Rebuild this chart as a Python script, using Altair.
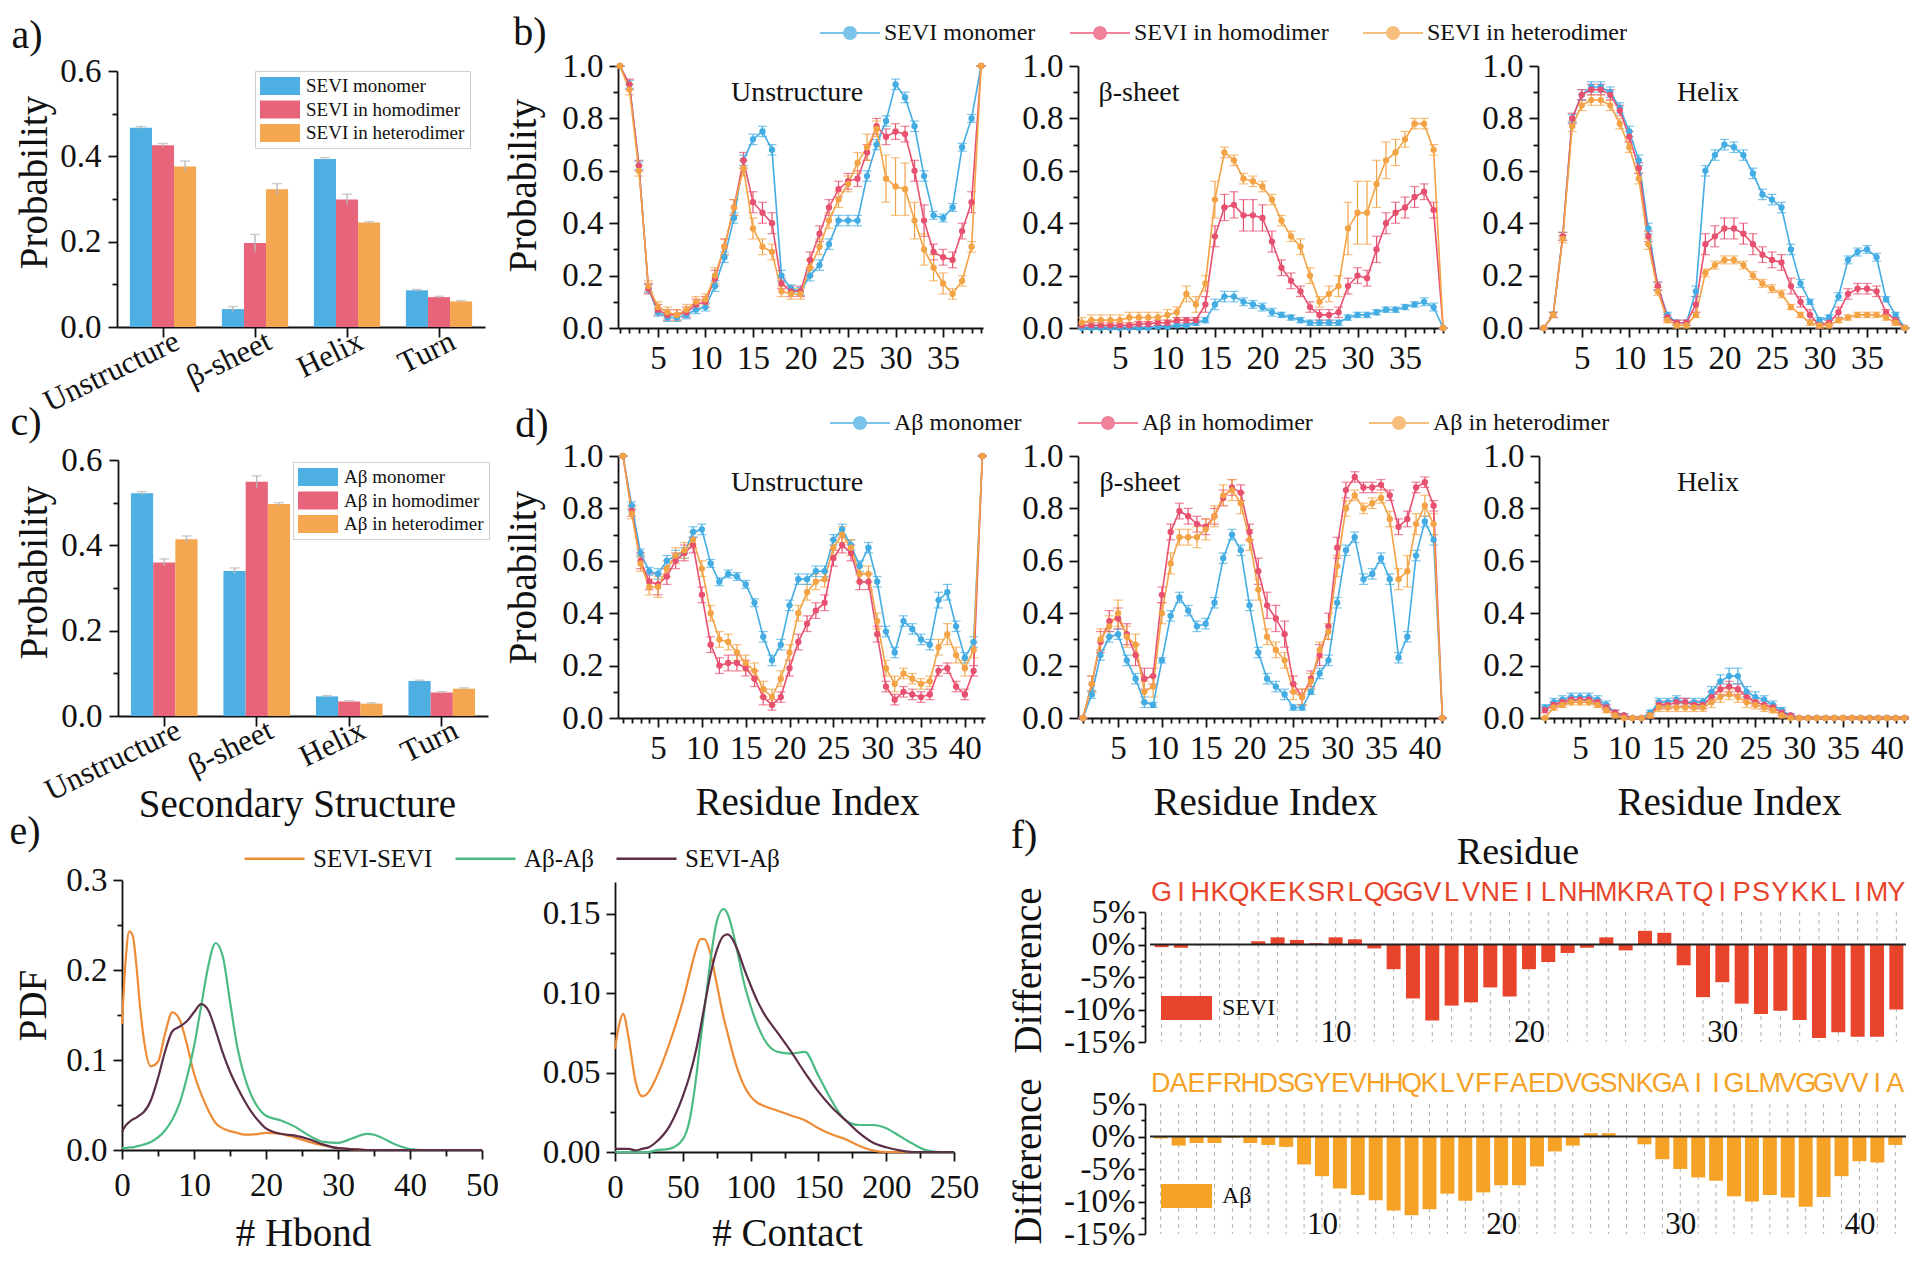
import altair as alt
import pandas as pd

FONT = "Liberation Serif"
SEQ_FONT = "Liberation Sans, Arial, sans-serif"
INK = "#111111"
H = 1248

LINE_COLORS = ["#43ACE3", "#E8506F", "#F3A345"]
BAR_COLORS = ["#4DAFE2", "#E8647A", "#F4A650"]
E_COLORS = ["#EE8B35", "#4CBB83", "#5C2F49"]
F_SEVI_COLOR = "#E8442C"
F_AB_COLOR = "#F5A226"

# ---------------- a) / c) secondary structure ----------------
categories = ["Unstructure", "β-sheet", "Helix", "Turn"]
sevi_names = ["SEVI monomer", "SEVI in homodimer", "SEVI in heterodimer"]
ab_names = ["Aβ monomer", "Aβ in homodimer", "Aβ in heterodimer"]

sevi_mono_ss = [0.467, 0.042, 0.394, 0.086]
sevi_homo_ss = [0.426, 0.197, 0.299, 0.070]
sevi_hetero_ss = [0.376, 0.323, 0.245, 0.060]
sevi_mono_ss_err = [0.003, 0.006, 0.003, 0.002]
sevi_homo_ss_err = [0.004, 0.020, 0.012, 0.002]
sevi_hetero_ss_err = [0.013, 0.013, 0.002, 0.002]

ab_mono_ss = [0.522, 0.340, 0.046, 0.082]
ab_homo_ss = [0.360, 0.549, 0.034, 0.055]
ab_hetero_ss = [0.414, 0.497, 0.029, 0.064]
ab_mono_ss_err = [0.004, 0.007, 0.002, 0.002]
ab_homo_ss_err = [0.008, 0.014, 0.002, 0.002]
ab_hetero_ss_err = [0.008, 0.003, 0.002, 0.002]

# ---------------- b) SEVI per-residue (39 residues) ----------------
sevi_unstr_mono = [1.0,0.93,0.62,0.15,0.06,0.04,0.04,0.05,0.07,0.08, 0.16,0.27,0.42,0.64,0.72,0.75,0.68,0.20,0.15,0.14, 0.20,0.24,0.32,0.41,0.41,0.41,0.58,0.70,0.79,0.93, 0.88,0.77,0.58,0.43,0.42,0.46,0.69,0.80,1.0]
sevi_unstr_homo = [1.0,0.93,0.62,0.15,0.07,0.05,0.05,0.06,0.09,0.10, 0.19,0.31,0.46,0.64,0.48,0.44,0.40,0.17,0.14,0.14, 0.26,0.36,0.46,0.53,0.56,0.57,0.67,0.77,0.73,0.75, 0.74,0.60,0.41,0.29,0.27,0.26,0.37,0.48,1.0]
sevi_unstr_hetero = [1.0,0.91,0.60,0.16,0.08,0.06,0.05,0.07,0.10,0.11, 0.20,0.31,0.46,0.61,0.38,0.31,0.29,0.14,0.13,0.13, 0.23,0.31,0.41,0.49,0.55,0.63,0.69,0.76,0.57,0.54, 0.53,0.41,0.30,0.23,0.17,0.13,0.18,0.31,1.0]
sevi_unstr_mono_err = [0.0,0.015,0.015,0.015,0.015,0.015,0.015,0.015,0.015,0.015, 0.02,0.02,0.02,0.02,0.02,0.02,0.02,0.02,0.015,0.015, 0.02,0.02,0.02,0.02,0.02,0.02,0.02,0.02,0.02,0.02, 0.02,0.02,0.02,0.015,0.015,0.015,0.015,0.015,0.0]
sevi_unstr_homo_err = [0.0,0.02,0.02,0.02,0.02,0.02,0.02,0.02,0.02,0.02, 0.03,0.03,0.03,0.03,0.04,0.04,0.04,0.02,0.02,0.02, 0.03,0.03,0.03,0.03,0.03,0.03,0.03,0.03,0.03,0.03, 0.03,0.04,0.06,0.03,0.03,0.03,0.03,0.04,0.0]
sevi_unstr_hetero_err = [0.0,0.02,0.02,0.02,0.02,0.02,0.02,0.02,0.02,0.02, 0.03,0.03,0.03,0.03,0.04,0.03,0.03,0.02,0.02,0.02, 0.03,0.03,0.03,0.03,0.03,0.04,0.05,0.03,0.09,0.11, 0.10,0.07,0.06,0.05,0.04,0.02,0.02,0.02,0.0]

sevi_beta_mono = [0.0,0.0,0.0,0.0,0.0,0.0,0.0,0.0,0.005,0.005, 0.01,0.01,0.02,0.03,0.09,0.12,0.12,0.10,0.09,0.08, 0.06,0.05,0.04,0.03,0.02,0.02,0.02,0.02,0.04,0.05, 0.05,0.06,0.07,0.07,0.08,0.09,0.10,0.08,0.0]
sevi_beta_homo = [0.01,0.01,0.01,0.01,0.01,0.01,0.015,0.015,0.02,0.02, 0.03,0.03,0.03,0.09,0.35,0.46,0.47,0.43,0.43,0.42, 0.33,0.23,0.18,0.14,0.08,0.05,0.05,0.06,0.16,0.20, 0.19,0.30,0.40,0.44,0.46,0.50,0.52,0.45,0.0]
sevi_beta_hetero = [0.02,0.03,0.03,0.03,0.03,0.04,0.04,0.04,0.04,0.05, 0.06,0.13,0.09,0.17,0.49,0.67,0.64,0.57,0.56,0.54, 0.49,0.41,0.35,0.31,0.20,0.10,0.13,0.16,0.38,0.44, 0.44,0.55,0.64,0.67,0.72,0.78,0.78,0.68,0.0]
sevi_beta_mono_err = [0.005,0.005,0.005,0.005,0.005,0.005,0.005,0.005,0.005,0.005, 0.005,0.005,0.01,0.01,0.02,0.02,0.02,0.015,0.015,0.015, 0.015,0.01,0.01,0.01,0.01,0.01,0.01,0.01,0.01,0.01, 0.01,0.01,0.01,0.01,0.01,0.01,0.015,0.015,0.0]
sevi_beta_homo_err = [0.01,0.01,0.01,0.01,0.01,0.01,0.01,0.01,0.01,0.01, 0.01,0.01,0.01,0.03,0.04,0.05,0.05,0.06,0.06,0.05, 0.04,0.03,0.03,0.02,0.02,0.02,0.02,0.02,0.03,0.03, 0.03,0.05,0.04,0.04,0.04,0.04,0.03,0.03,0.0]
sevi_beta_hetero_err = [0.02,0.02,0.02,0.02,0.02,0.02,0.02,0.02,0.02,0.02, 0.02,0.03,0.03,0.03,0.07,0.02,0.02,0.02,0.02,0.02, 0.02,0.02,0.02,0.03,0.03,0.02,0.03,0.04,0.10,0.12, 0.12,0.09,0.07,0.05,0.03,0.02,0.02,0.02,0.0]

sevi_helix_mono = [0.0,0.05,0.35,0.80,0.89,0.92,0.92,0.90,0.84,0.75, 0.64,0.38,0.16,0.05,0.02,0.02,0.14,0.60,0.66,0.70, 0.69,0.66,0.59,0.51,0.49,0.46,0.30,0.17,0.10,0.03, 0.04,0.12,0.26,0.29,0.30,0.27,0.11,0.05,0.0]
sevi_helix_homo = [0.0,0.05,0.35,0.80,0.89,0.91,0.91,0.89,0.83,0.73, 0.61,0.35,0.16,0.04,0.02,0.02,0.09,0.32,0.35,0.38, 0.38,0.36,0.32,0.28,0.26,0.25,0.16,0.10,0.05,0.01, 0.02,0.06,0.13,0.15,0.15,0.14,0.06,0.03,0.0]
sevi_helix_hetero = [0.0,0.05,0.34,0.77,0.85,0.87,0.87,0.85,0.78,0.69, 0.57,0.32,0.14,0.03,0.01,0.01,0.05,0.21,0.24,0.26, 0.26,0.24,0.20,0.17,0.15,0.13,0.08,0.05,0.02,0.01, 0.01,0.03,0.04,0.05,0.05,0.05,0.04,0.02,0.0]
sevi_helix_mono_err = [0.0,0.01,0.015,0.015,0.02,0.02,0.02,0.02,0.02,0.02, 0.02,0.02,0.015,0.01,0.01,0.01,0.02,0.02,0.02,0.02, 0.02,0.02,0.02,0.02,0.02,0.02,0.02,0.015,0.01,0.01, 0.01,0.015,0.015,0.015,0.015,0.015,0.01,0.01,0.0]
sevi_helix_homo_err = [0.0,0.01,0.015,0.02,0.02,0.02,0.02,0.02,0.02,0.02, 0.02,0.02,0.015,0.01,0.01,0.01,0.03,0.04,0.04,0.04, 0.04,0.04,0.04,0.03,0.03,0.03,0.03,0.02,0.02,0.01, 0.01,0.02,0.02,0.02,0.02,0.02,0.01,0.01,0.0]
sevi_helix_hetero_err = [0.0,0.01,0.015,0.02,0.02,0.02,0.02,0.02,0.02,0.02, 0.02,0.02,0.015,0.01,0.01,0.01,0.01,0.015,0.015,0.015, 0.015,0.015,0.015,0.015,0.015,0.015,0.01,0.01,0.01,0.01, 0.01,0.01,0.01,0.01,0.01,0.01,0.01,0.01,0.0]

# ---------------- d) Abeta per-residue (42 residues) ----------------
ab_unstr_mono = [1.0,0.81,0.63,0.56,0.55,0.60,0.62,0.63,0.71,0.72, 0.59,0.52,0.55,0.54,0.51,0.44,0.31,0.22,0.28,0.43, 0.53,0.53,0.56,0.56,0.68,0.72,0.66,0.58,0.65,0.52, 0.33,0.25,0.37,0.34,0.30,0.28,0.45,0.48,0.35,0.23, 0.29,1.0]
ab_unstr_homo = [1.0,0.79,0.60,0.52,0.51,0.54,0.60,0.63,0.66,0.47, 0.28,0.20,0.21,0.21,0.19,0.15,0.08,0.05,0.08,0.19, 0.29,0.36,0.41,0.44,0.61,0.66,0.63,0.52,0.52,0.32, 0.12,0.07,0.10,0.09,0.08,0.09,0.18,0.19,0.12,0.09, 0.18,1.0]
ab_unstr_hetero = [1.0,0.78,0.59,0.50,0.50,0.57,0.62,0.64,0.68,0.57, 0.40,0.30,0.29,0.25,0.21,0.18,0.11,0.08,0.15,0.25, 0.40,0.48,0.52,0.53,0.65,0.70,0.65,0.55,0.55,0.37, 0.19,0.13,0.17,0.15,0.13,0.14,0.27,0.32,0.24,0.19, 0.26,1.0]
ab_unstr_mono_err = [0.0,0.015,0.015,0.015,0.02,0.02,0.02,0.02,0.02,0.02, 0.015,0.015,0.015,0.015,0.015,0.015,0.02,0.02,0.02,0.02, 0.02,0.02,0.02,0.02,0.02,0.02,0.02,0.02,0.02,0.02, 0.02,0.02,0.02,0.02,0.02,0.02,0.03,0.03,0.02,0.02, 0.02,0.0]
ab_unstr_homo_err = [0.0,0.02,0.03,0.03,0.04,0.03,0.03,0.03,0.03,0.03, 0.03,0.03,0.03,0.03,0.03,0.03,0.03,0.02,0.02,0.03, 0.03,0.03,0.03,0.03,0.03,0.03,0.03,0.03,0.03,0.03, 0.02,0.02,0.02,0.02,0.02,0.02,0.02,0.02,0.02,0.02, 0.02,0.0]
ab_unstr_hetero_err = [0.0,0.02,0.03,0.03,0.04,0.03,0.03,0.03,0.03,0.03, 0.03,0.03,0.03,0.03,0.03,0.03,0.03,0.03,0.03,0.03, 0.03,0.03,0.03,0.03,0.03,0.03,0.03,0.03,0.03,0.03, 0.03,0.03,0.02,0.02,0.02,0.02,0.03,0.04,0.03,0.03, 0.03,0.0]

ab_beta_mono = [0.0,0.09,0.24,0.31,0.32,0.22,0.15,0.06,0.05,0.22, 0.39,0.46,0.41,0.35,0.36,0.44,0.61,0.70,0.64,0.43, 0.25,0.15,0.12,0.09,0.04,0.04,0.10,0.17,0.22,0.44, 0.64,0.69,0.53,0.55,0.61,0.53,0.23,0.31,0.62,0.75, 0.68,0.0]
ab_beta_homo = [0.0,0.13,0.29,0.37,0.38,0.32,0.24,0.15,0.16,0.47, 0.71,0.79,0.77,0.74,0.73,0.77,0.84,0.88,0.86,0.71, 0.56,0.43,0.38,0.32,0.13,0.08,0.15,0.24,0.35,0.65, 0.87,0.92,0.88,0.88,0.89,0.85,0.73,0.76,0.88,0.90, 0.81,0.0]
ab_beta_hetero = [0.0,0.13,0.30,0.35,0.40,0.31,0.28,0.10,0.12,0.40, 0.59,0.69,0.69,0.69,0.72,0.77,0.85,0.87,0.82,0.68, 0.49,0.31,0.26,0.22,0.10,0.08,0.14,0.26,0.33,0.58, 0.80,0.85,0.80,0.82,0.84,0.76,0.53,0.56,0.74,0.81, 0.74,0.0]
ab_beta_mono_err = [0.0,0.015,0.02,0.02,0.02,0.02,0.02,0.02,0.01,0.01, 0.02,0.02,0.02,0.02,0.02,0.02,0.02,0.02,0.02,0.02, 0.02,0.02,0.02,0.02,0.01,0.01,0.01,0.02,0.02,0.02, 0.02,0.02,0.02,0.02,0.02,0.02,0.02,0.02,0.02,0.02, 0.02,0.0]
ab_beta_homo_err = [0.0,0.03,0.04,0.04,0.04,0.04,0.04,0.04,0.03,0.03, 0.03,0.03,0.03,0.03,0.03,0.03,0.03,0.03,0.03,0.03, 0.05,0.05,0.05,0.05,0.03,0.03,0.03,0.04,0.05,0.04, 0.03,0.02,0.02,0.02,0.02,0.02,0.03,0.03,0.02,0.02, 0.02,0.0]
ab_beta_hetero_err = [0.0,0.03,0.04,0.04,0.05,0.04,0.04,0.04,0.04,0.04, 0.04,0.03,0.03,0.04,0.04,0.04,0.04,0.04,0.04,0.04, 0.04,0.03,0.03,0.03,0.03,0.03,0.03,0.03,0.03,0.04, 0.03,0.02,0.02,0.02,0.02,0.03,0.04,0.06,0.04,0.04, 0.04,0.0]

ab_helix_mono = [0.04,0.06,0.07,0.08,0.08,0.08,0.07,0.05,0.02,0.01, 0.0,0.0,0.02,0.06,0.06,0.07,0.06,0.06,0.06,0.10, 0.14,0.16,0.16,0.10,0.08,0.07,0.05,0.03,0.01,0.0, 0.0,0.0,0.0,0.0,0.0,0.0,0.0,0.0,0.0,0.0, 0.0,0.0]
ab_helix_homo = [0.03,0.05,0.06,0.07,0.07,0.07,0.06,0.04,0.02,0.01, 0.0,0.0,0.01,0.05,0.05,0.06,0.06,0.05,0.05,0.08, 0.11,0.12,0.11,0.08,0.06,0.05,0.04,0.02,0.01,0.0, 0.0,0.0,0.0,0.0,0.0,0.0,0.0,0.0,0.0,0.0, 0.0,0.0]
ab_helix_hetero = [0.0,0.04,0.05,0.06,0.06,0.06,0.05,0.03,0.01,0.0, 0.0,0.0,0.01,0.04,0.04,0.04,0.04,0.04,0.04,0.06, 0.08,0.09,0.08,0.06,0.05,0.04,0.03,0.01,0.0,0.0, 0.0,0.0,0.0,0.0,0.0,0.0,0.0,0.0,0.0,0.0, 0.0,0.0]
ab_helix_mono_err = [0.01,0.015,0.015,0.015,0.015,0.015,0.015,0.015,0.01,0.005, 0.005,0.005,0.01,0.015,0.015,0.015,0.015,0.015,0.015,0.02, 0.025,0.03,0.03,0.02,0.02,0.015,0.015,0.01,0.005,0.005, 0.005,0.005,0.005,0.005,0.005,0.005,0.005,0.005,0.005,0.005, 0.005,0.005]
ab_helix_homo_err = [0.01,0.01,0.01,0.01,0.01,0.01,0.01,0.01,0.01,0.005, 0.005,0.005,0.01,0.015,0.015,0.015,0.015,0.015,0.015,0.02, 0.02,0.02,0.02,0.02,0.015,0.015,0.01,0.01,0.005,0.005, 0.005,0.005,0.005,0.005,0.005,0.005,0.005,0.005,0.005,0.005, 0.005,0.005]
ab_helix_hetero_err = [0.0,0.01,0.01,0.01,0.01,0.01,0.01,0.01,0.01,0.005, 0.005,0.005,0.01,0.015,0.015,0.015,0.015,0.015,0.015,0.02, 0.02,0.02,0.02,0.02,0.015,0.015,0.01,0.01,0.005,0.005, 0.005,0.005,0.005,0.005,0.005,0.005,0.005,0.005,0.005,0.005, 0.005,0.005]

# ---------------- e) PDFs ----------------
pair_names = ["SEVI-SEVI", "Aβ-Aβ", "SEVI-Aβ"]
hbond_x = [0,0.5,1,1.5,2,2.5,3, 4,5,6,7,8,9,10,11,12,13,14,15,16,17,18,19,20, 22,24,26,28,30,32,34, 35,36,38,40,42,45,50]
hbond_sevi_sevi = [0.14,0.21,0.243,0.238,0.205,0.16,0.125, 0.093,0.098,0.13,0.153,0.145,0.118,0.085,0.062,0.044,0.03,0.024,0.021,0.019,0.017,0.017,0.018,0.019, 0.018,0.014,0.009,0.005,0.002,0.001,0.0, 0.0,0.0,0.0,0.0,0.0,0.0,0.0]
hbond_ab_ab = [0.002,0.002,0.003,0.003,0.004,0.005,0.006, 0.009,0.014,0.022,0.034,0.052,0.08,0.115,0.16,0.205,0.23,0.215,0.165,0.115,0.082,0.06,0.046,0.038, 0.033,0.026,0.016,0.009,0.008,0.013,0.018, 0.017,0.014,0.006,0.001,0.0,0.0,0.0]
hbond_sevi_ab = [0.02,0.027,0.031,0.034,0.036,0.039,0.042, 0.055,0.08,0.11,0.132,0.137,0.143,0.153,0.162,0.155,0.133,0.108,0.087,0.07,0.055,0.042,0.032,0.024, 0.018,0.016,0.012,0.006,0.002,0.001,0.0, 0.0,0.0,0.0,0.0,0.0,0.0,0.0]

contact_x = [0,3,6,10,15,20,25,30, 40,50,55,60,63,66,70,75,80,83,85,90,95,100,105,110, 120,130,140,150,160,170,180,190,200,210,220,230,240,250]
contact_sevi_sevi = [0.065,0.08,0.087,0.072,0.045,0.035,0.038,0.046, 0.068,0.095,0.112,0.128,0.134,0.134,0.126,0.106,0.085,0.075,0.068,0.053,0.042,0.035,0.031,0.029, 0.026,0.023,0.02,0.015,0.011,0.008,0.004,0.001,0.0,0.0,0.0,0.0,0.0,0.0]
contact_ab_ab = [0.0,0.0,0.0,0.0,0.0,0.0,0.0,0.001, 0.002,0.008,0.02,0.048,0.07,0.09,0.118,0.145,0.153,0.15,0.145,0.127,0.107,0.092,0.08,0.071, 0.063,0.062,0.063,0.048,0.032,0.02,0.017,0.017,0.015,0.01,0.005,0.001,0.0,0.0]
contact_sevi_ab = [0.002,0.002,0.002,0.002,0.001,0.002,0.003,0.006, 0.016,0.035,0.048,0.065,0.078,0.092,0.11,0.127,0.136,0.137,0.136,0.128,0.116,0.105,0.095,0.087, 0.075,0.063,0.05,0.038,0.028,0.02,0.012,0.006,0.003,0.001,0.0,0.0,0.0,0.0]

# ---------------- f) differences ----------------
sevi_seq = "GIHKQKEKSRLQGGVLVNEILNHMKRATQIPSYKKLIMY"
ab_seq = "DAEFRHDSGYEVHHQKLVFFAEDVGSNKGAIIGLMVGGVVIA"
sevi_diff = [-0.4,-0.5,-0.1,0.0,0.0,0.5,1.1,0.7,0.2,1.1, 0.8,-0.6,-3.8,-8.3,-11.7,-9.4,-8.9,-6.6,-8.0,-3.8, -2.7,-1.3,-0.5,1.1,-0.9,2.1,1.8,-3.2,-8.1,-5.8, -9.1,-10.7,-10.2,-11.6,-14.4,-13.5,-14.2,-14.2,-10.0]
ab_diff = [-0.3,-1.4,-1.0,-1.0,-0.2,-1.0,-1.3,-1.6,-4.3,-6.1, -8.0,-9.0,-9.8,-11.4,-12.1,-11.2,-8.8,-9.9,-8.6,-7.5, -7.5,-4.6,-2.3,-1.4,0.5,0.5,0.0,-1.2,-3.5,-5.0, -6.3,-6.8,-9.2,-10.0,-9.0,-9.4,-10.8,-9.3,-6.1,-3.8, -4.0,-1.3]

# ---------------- helpers ----------------
LINEPT_SYMBOL = "M-3,0H3M0.6,0A0.6,0.6,0,1,1,-0.6,0A0.6,0.6,0,1,1,0.6,0Z"
RECT_SYMBOL = "M-1,-0.9H3V0.9H-1Z"
DUMMY = pd.DataFrame({"d": [0]})


def lin(dom, rng):
    return alt.Scale(domain=dom, range=rng, nice=False, zero=False)


def ghost(xdom, xr, ydom, yr, xvals=None, yvals=None, xsize=5, ysize=5):
    df = pd.DataFrame({"gx": [xdom[0]], "gy": [ydom[0]]})
    xa = (alt.Axis(orient="bottom", offset=yr[0] - H, values=xvals, labels=False,
                   domain=False, tickSize=xsize, title=None) if xvals else None)
    ya = (alt.Axis(orient="left", offset=-xr[0], values=yvals, labels=False,
                   domain=False, tickSize=ysize, title=None) if yvals else None)
    return alt.Chart(df).mark_point(opacity=0).encode(
        x=alt.X("gx:Q", scale=lin(xdom, xr), axis=xa),
        y=alt.Y("gy:Q", scale=lin(ydom, yr), axis=ya),
    )


def text(s, x, y, size, font=FONT, color=INK, align="center", baseline="middle"):
    return alt.Chart(DUMMY).mark_text(
        text=s, font=font, fontSize=size, color=color, align=align, baseline=baseline
    ).encode(x=alt.value(x), y=alt.value(y))


def bar_panel(names, vals, errs, xr, yr, ytitle_x, ytitle_y, legend, xtitle=None, xtitle_x=None):
    rows = []
    for n, vs, es in zip(names, vals, errs):
        for c, v, e in zip(categories, vs, es):
            rows.append({"cat": c, "series": n, "value": v, "lo": v - e, "hi": v + e})
    df = pd.DataFrame(rows)
    xs = alt.Scale(domain=categories, range=xr, paddingInner=0.28, paddingOuter=0.14)
    ys = lin([0, 0.6], yr)
    xo = alt.XOffset("series:N", scale=alt.Scale(domain=names))
    xkw = dict(orient="bottom", offset=yr[0] - H, labelAngle=-26, labelAlign="right",
               labelBaseline="top", tickSize=10, labelPadding=-11, labelOffset=8,
               labelFontSize=31)
    if xtitle:
        xkw.update(title=xtitle, titleX=xtitle_x, titleY=88, titleBaseline="middle", titleAlign="center")
    else:
        xkw["title"] = None
    xax = alt.Axis(**xkw)
    yax = alt.Axis(orient="left", offset=-xr[0], values=[0, 0.2, 0.4, 0.6], format=".1f",
                   tickSize=9, labelPadding=7, title="Probability", titleX=ytitle_x,
                   titleY=ytitle_y, titleBaseline="middle", titleAlign="center")
    color = alt.Color("series:N", scale=alt.Scale(domain=names, range=BAR_COLORS), legend=legend)
    xe = alt.X("cat:N", scale=xs, axis=xax)
    bars = alt.Chart(df).mark_bar().encode(
        x=xe, xOffset=xo, y=alt.Y("value:Q", scale=ys, axis=yax), color=color)
    err = alt.Chart(df).mark_rule(color="#b8b8b8", strokeWidth=1.4).encode(
        x=xe, xOffset=xo, y=alt.Y("lo:Q", scale=ys, axis=yax), y2="hi:Q")
    cap = alt.Chart(df).mark_tick(orient="horizontal", size=10, thickness=1.4, color="#b8b8b8").encode(
        x=xe, xOffset=xo, y=alt.Y("hi:Q", scale=ys, axis=yax))
    panel = alt.layer(bars, err, cap)
    minor = ghost([0, 1], xr, [0, 0.6], yr, yvals=[0.1, 0.3, 0.5])
    return [panel, minor]


def line_panel(n_res, names, vals, errs, xdom, xr, yr, legend=None, ytitle=False,
               ytitle_y=None, xtitle_x=None):
    rows = []
    for n, vs, es in zip(names, vals, errs):
        for r, v, e in zip(range(1, n_res + 1), vs, es):
            rows.append({"residue": r, "value": v, "lo": v - e, "hi": v + e, "series": n})
    df = pd.DataFrame(rows)
    xs = lin(xdom, xr)
    ys = lin([0, 1], yr)
    major_x = [v for v in range(5, n_res + 1, 5)]
    xkw = dict(orient="bottom", offset=yr[0] - H, values=major_x, format="d", tickSize=9,
               labelPadding=5)
    if xtitle_x is not None:
        xkw.update(title="Residue Index", titleX=xtitle_x, titleY=84, titleBaseline="middle",
                   titleAlign="center")
    else:
        xkw["title"] = None
    ykw = dict(orient="left", offset=-xr[0], values=[0, 0.2, 0.4, 0.6, 0.8, 1.0], format=".1f",
               tickSize=9, labelPadding=6)
    if ytitle:
        ykw.update(title="Probability", titleX=-95, titleY=ytitle_y, titleBaseline="middle",
                   titleAlign="center")
    else:
        ykw["title"] = None
    xax = alt.Axis(**xkw)
    yax = alt.Axis(**ykw)
    color = alt.Color("series:N", scale=alt.Scale(domain=names, range=LINE_COLORS), legend=legend)
    base = alt.Chart(df)
    xn = alt.X("residue:Q", scale=xs, axis=xax)
    err = base.mark_rule(strokeWidth=1.2).encode(
        x=xn, y=alt.Y("lo:Q", scale=ys, axis=yax), y2="hi:Q", color=color)
    cap_hi = base.mark_tick(orient="horizontal", size=9, thickness=1.2).encode(
        x=xn, y=alt.Y("hi:Q", scale=ys, axis=yax), color=color)
    cap_lo = base.mark_tick(orient="horizontal", size=9, thickness=1.2).encode(
        x=xn, y=alt.Y("lo:Q", scale=ys, axis=yax), color=color)
    line = base.mark_line(strokeWidth=1.6).encode(
        x=xn, y=alt.Y("value:Q", scale=ys, axis=yax), color=color)
    pts = base.mark_point(filled=True, size=40, opacity=1).encode(
        x=xn, y=alt.Y("value:Q", scale=ys, axis=yax), color=color)
    panel = alt.layer(err, cap_hi, cap_lo, line, pts)
    minor_x = [v for v in range(1, n_res + 1) if v % 5 != 0]
    minor = ghost(xdom, xr, [0, 1], yr, xvals=minor_x, yvals=[0.1, 0.3, 0.5, 0.7, 0.9])
    return [panel, minor]


def pdf_panel(xv, ys_list, xdom, xr, ydom, yr, xmajor, xminor, ymajor, yminor, yfmt,
              xtitle, xtitle_x, xtitle_y, ytitle=None, legend=None):
    rows = []
    for n, vs in zip(pair_names, ys_list):
        for x, v in zip(xv, vs):
            rows.append({"x": x, "pdf": v, "pair": n})
    df = pd.DataFrame(rows)
    xkw = dict(orient="bottom", offset=yr[0] - H, values=xmajor, format="d", tickSize=9,
               labelPadding=10, title=xtitle, titleX=xtitle_x, titleY=xtitle_y,
               titleBaseline="middle", titleAlign="center")
    ykw = dict(orient="left", offset=-xr[0], values=ymajor, format=yfmt, tickSize=9, labelPadding=6)
    if ytitle:
        ykw.update(title=ytitle, titleX=-89, titleY=997, titleBaseline="middle", titleAlign="center")
    else:
        ykw["title"] = None
    color = alt.Color("pair:N", scale=alt.Scale(domain=pair_names, range=E_COLORS), legend=legend)
    line = alt.Chart(df).mark_line(strokeWidth=2.2, interpolate="monotone").encode(
        x=alt.X("x:Q", scale=lin(xdom, xr), axis=alt.Axis(**xkw)),
        y=alt.Y("pdf:Q", scale=lin(ydom, yr), axis=alt.Axis(**ykw)),
        color=color)
    minor = ghost(xdom, xr, ydom, yr, xvals=xminor, yvals=yminor, xsize=6)
    return [line, minor]


def diff_panel(seq, vals, name, col, xdom, xr, yr, xlabels, legend_y, ytitle_y, seq_y):
    resid = list(range(1, len(seq) + 1))
    df = pd.DataFrame({"residue": resid, "diff": vals, "grp": [name] * len(resid),
                       "aa": list(seq)})
    xs = lin(xdom, xr)
    ys = lin([-15, 5], yr)
    yax = alt.Axis(orient="left", offset=-xr[0], values=[-15, -10, -5, 0, 5],
                   labelExpr="datum.value + '%'", tickSize=7, labelPadding=3,
                   title="Difference", titleX=-117, titleY=ytitle_y, titleBaseline="middle",
                   titleAlign="center")
    xax = alt.Axis(orient="bottom", offset=yr[0] - H, values=xlabels, format="d", ticks=False,
                   domain=False, labelPadding=-1, labelBaseline="alphabetic", labelFontSize=31,
                   title=None)
    xn = alt.X("residue:Q", scale=xs, axis=xax)
    grid = alt.Chart(df).mark_rule(strokeDash=[4, 4], color="#b0b0b0", strokeWidth=1).encode(
        x=xn, y=alt.YDatum(5, scale=ys, axis=yax), y2=alt.datum(-15))
    legend = alt.Legend(orient="none", legendX=1153, legendY=legend_y, title=None,
                        symbolType="M-1,-1H3.25V1H-1Z", symbolSize=576, symbolStrokeWidth=0,
                        labelFontSize=24, labelOffset=37, labelFont=FONT)
    bars = alt.Chart(df).mark_bar(width=14).encode(
        x=xn, y=alt.Y("diff:Q", scale=ys, axis=yax), y2=alt.datum(0),
        color=alt.Color("grp:N", scale=alt.Scale(domain=[name], range=[col]), legend=legend))
    zero = alt.Chart(DUMMY).mark_rule(color="#222222", strokeWidth=2.2).encode(
        x=alt.XDatum(xdom[0], scale=xs, axis=xax), x2=alt.datum(xdom[1]),
        y=alt.YDatum(0, scale=ys, axis=yax))
    letters = alt.Chart(df).mark_text(font=SEQ_FONT, fontSize=27, color=col, baseline="middle").encode(
        x=xn, y=alt.value(seq_y), text="aa:N")
    panel = alt.layer(grid, bars, zero, letters)
    minor = ghost(xdom, xr, [-15, 5], yr, yvals=[-12.5, -7.5, -2.5, 2.5], ysize=4)
    return [panel, minor]


# ---------------- geometry (chart pixels) ----------------
BY = [320, 58]
DY = [710, 448]

layers = []

legend_a = alt.Legend(orient="none", legendX=247, legendY=63, direction="vertical", title=None,
                      symbolType=RECT_SYMBOL, symbolSize=400, symbolStrokeWidth=0,
                      labelFontSize=19, labelOffset=26, rowPadding=3.5, padding=5,
                      strokeColor="#cfcfcf", fillColor="white", labelFont=FONT, labelLimit=500)
legend_c = alt.Legend(orient="none", legendX=285, legendY=454, direction="vertical", title=None,
                      symbolType=RECT_SYMBOL, symbolSize=400, symbolStrokeWidth=0,
                      labelFontSize=19, labelOffset=26, rowPadding=3.5, padding=5,
                      strokeColor="#cfcfcf", fillColor="white", labelFont=FONT, labelLimit=500)

layers += bar_panel(sevi_names, [sevi_mono_ss, sevi_homo_ss, sevi_hetero_ss],
                    [sevi_mono_ss_err, sevi_homo_ss_err, sevi_hetero_ss_err],
                    [109, 477], [319, 63], -83, 174, legend_a)
layers += bar_panel(ab_names, [ab_mono_ss, ab_homo_ss, ab_hetero_ss],
                    [ab_mono_ss_err, ab_homo_ss_err, ab_hetero_ss_err],
                    [110, 480], [708, 452], -84, 564, legend_c,
                    xtitle="Secondary Structure", xtitle_x=289)

legend_b = alt.Legend(orient="none", legendX=830, legendY=13, direction="horizontal", title=None,
                      symbolType=LINEPT_SYMBOL, symbolSize=400, symbolStrokeWidth=2,
                      labelFontSize=24, labelOffset=22, columnPadding=30, labelFont=FONT,
                      labelLimit=500)
legend_d = alt.Legend(orient="none", legendX=840, legendY=403, direction="horizontal", title=None,
                      symbolType=LINEPT_SYMBOL, symbolSize=400, symbolStrokeWidth=2,
                      labelFontSize=24, labelOffset=22, columnPadding=52, labelFont=FONT,
                      labelLimit=500)

layers += line_panel(39, sevi_names,
                     [sevi_unstr_mono, sevi_unstr_homo, sevi_unstr_hetero],
                     [sevi_unstr_mono_err, sevi_unstr_homo_err, sevi_unstr_hetero_err],
                     [0.8, 39.2], [610, 975], BY, ytitle=True, ytitle_y=177)
layers += line_panel(39, sevi_names,
                     [sevi_beta_mono, sevi_beta_homo, sevi_beta_hetero],
                     [sevi_beta_mono_err, sevi_beta_homo_err, sevi_beta_hetero_err],
                     [0.6, 39.2], [1070, 1437], BY, legend=legend_b)
layers += line_panel(39, sevi_names,
                     [sevi_helix_mono, sevi_helix_homo, sevi_helix_hetero],
                     [sevi_helix_mono_err, sevi_helix_homo_err, sevi_helix_hetero_err],
                     [0.4, 39.2], [1530, 1899], BY)

layers += line_panel(42, ab_names,
                     [ab_unstr_mono, ab_unstr_homo, ab_unstr_hetero],
                     [ab_unstr_mono_err, ab_unstr_homo_err, ab_unstr_hetero_err],
                     [0.43, 42.3], [610, 977], DY, ytitle=True, ytitle_y=569, xtitle_x=799)
layers += line_panel(42, ab_names,
                     [ab_beta_mono, ab_beta_homo, ab_beta_hetero],
                     [ab_beta_mono_err, ab_beta_homo_err, ab_beta_hetero_err],
                     [0.43, 42.3], [1070, 1437], DY, legend=legend_d, xtitle_x=1257)
layers += line_panel(42, ab_names,
                     [ab_helix_mono, ab_helix_homo, ab_helix_hetero],
                     [ab_helix_mono_err, ab_helix_homo_err, ab_helix_hetero_err],
                     [0.32, 42.4], [1531, 1900], DY, xtitle_x=1721)

legend_e = alt.Legend(orient="none", legendX=254, legendY=838, direction="horizontal", title=None,
                      symbolType="M-3,0H3", symbolSize=400, symbolStrokeWidth=2.5,
                      labelFontSize=25, labelOffset=26, columnPadding=17, labelFont=FONT,
                      labelLimit=500)

layers += pdf_panel(hbond_x, [hbond_sevi_sevi, hbond_ab_ab, hbond_sevi_ab],
                    [0, 50], [114, 474], [0, 0.3], [1142, 872],
                    [0, 10, 20, 30, 40, 50], [5, 15, 25, 35, 45],
                    [0, 0.1, 0.2, 0.3], [0.05, 0.15, 0.25], ".1f",
                    "# Hbond", 295, 83, ytitle="PDF", legend=legend_e)
layers += pdf_panel(contact_x, [contact_sevi_sevi, contact_ab_ab, contact_sevi_ab],
                    [0, 250], [607, 946], [0, 0.17], [1144, 874],
                    [0, 50, 100, 150, 200, 250], [25, 75, 125, 175, 225],
                    [0, 0.05, 0.10, 0.15], [0.025, 0.075, 0.125], ".2f",
                    "# Contact", 779, 81)

layers += diff_panel(sevi_seq, sevi_diff, "SEVI", F_SEVI_COLOR, [0.4, 39.5], [1137, 1903],
                     [1034, 904], [10, 20, 30], 988, 962, 885)
layers += diff_panel(ab_seq, ab_diff, "Aβ", F_AB_COLOR, [0.4, 42.6], [1137, 1903],
                     [1226, 1096], [10, 20, 30, 40], 1176, 1153, 1076)

# decorations
layers += [
    text("a)", 19, 28, 40), text("b)", 522, 25, 40), text("c)", 18, 415, 40),
    text("d)", 524, 417, 40), text("e)", 17, 824, 40), text("f)", 1016, 828, 40),
    text("Unstructure", 789, 85, 28), text("β-sheet", 1131, 85, 28), text("Helix", 1700, 85, 28),
    text("Unstructure", 789, 475, 28), text("β-sheet", 1132, 475, 28), text("Helix", 1700, 475, 28),
    text("Residue", 1510, 845, 38),
]

chart = alt.layer(*layers).resolve_scale(
    x="independent", y="independent", color="independent", xOffset="independent"
).properties(width=1904, height=1248, padding=0, background="white").configure_view(
    strokeWidth=0
).configure_axis(
    labelFont=FONT, titleFont=FONT, labelFontSize=33, titleFontSize=39, titleFontWeight="normal",
    labelColor=INK, titleColor=INK, domainColor=INK, tickColor=INK, domainWidth=1.8,
    tickWidth=1.8, grid=False, labelFlush=False, labelOverlap=False, labelLimit=400
).configure_legend(labelColor=INK)

chart.save("out.html", embed_options={"renderer": "svg", "actions": False})
